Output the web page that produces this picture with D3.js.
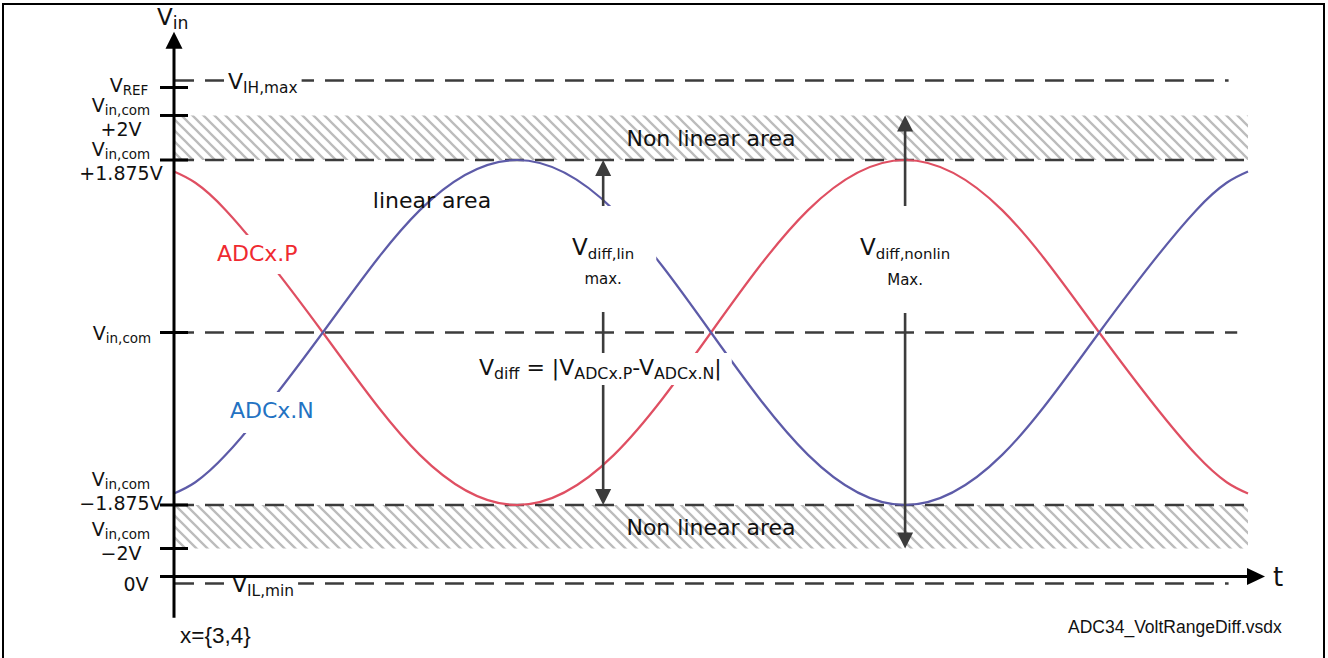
<!DOCTYPE html>
<html>
<head>
<meta charset="utf-8">
<script src="https://cdn.jsdelivr.net/npm/d3@7"></script>
<style>
  body { margin: 0; background: #fff; }
  svg { display: block; }
  text { font-family: "DejaVu Sans", Verdana, sans-serif; white-space: pre; }
</style>
</head>
<body>
<div id="chart"></div>
<script>
// phase of the sample points (degrees)
const phase = [-69, -45, 0, 45, 90, 135, 180, 225, 270, 315, 360, 405, 429];
// ADCx.P and ADCx.N relative to Vin,com (V)
const adcP = [1.75, 1.33, 0, -1.33, -1.875, -1.33, 0, 1.33, 1.875, 1.33, 0, -1.33, -1.75];
const adcN = [-1.75, -1.33, 0, 1.33, 1.875, 1.33, 0, -1.33, -1.875, -1.33, 0, 1.33, 1.75];

// schematic levels on the Vin axis (relative to Vin,com, as drawn)
const dashedLevels = [2.739, 1.875, 0, -1.875, -2.728];
const tickLevels = [2.663, 2.359, 1.875, 0, -1.875, -2.348];
const bands = [[1.875, 2.359], [-2.348, -1.875]];
const zeroVolt = -2.652;

// tick labels on the left
const axisLabelText = ["V_{REF}", "V_{in,com}\n+2V", "V_{in,com}\n+1.875V", "V_{in,com}",
                       "V_{in,com}\n\u22121.875V", "V_{in,com}\n\u22122V", "0V"];
const axisLabelLevel = [2.663, 2.359, 1.875, 0, -1.875, -2.348, -2.652];

// arrows: phase, from level, to level
const arrowPhase = [130, 270];
const arrowFrom = [1.875, 2.359];
const arrowTo = [-1.875, -2.348];

const svg = d3.select('#chart').append('svg')
    .attr('width', 1328)
    .attr('height', 658);

const x = d3.scaleLinear().domain([-69, 429]).range([174, 1248]);
const y = d3.scaleLinear().domain([-1.875, 1.875]).range([505, 160]);

const ink = '#3c3c3c';

// hatch pattern
svg.append('defs').append('pattern')
    .attr('id', 'hatch')
    .attr('patternUnits', 'userSpaceOnUse')
    .attr('width', 11).attr('height', 11)
  .append('path')
    .attr('d', 'M-1,10 l2,2 M0,0 l11,11 M10,-1 l2,2')
    .attr('stroke', '#bcbcbc')
    .attr('stroke-width', 2.3);

// frame
svg.append('path')
    .attr('d', 'M3,658 V4 H1324 V658')
    .attr('fill', 'none').attr('stroke', '#000').attr('stroke-width', 2);

const gHatch = svg.append('g');
const gDash = svg.append('g');
const gCurve = svg.append('g');
const gArrow = svg.append('g');
const gBox = svg.append('g');
const gText = svg.append('g');
const gAxis = svg.append('g');

// non linear bands
gHatch.selectAll('rect')
  .data(bands)
  .join('rect')
    .attr('x', x(-69))
    .attr('y', d => y(d[1]))
    .attr('width', x(429) - x(-69))
    .attr('height', d => y(d[0]) - y(d[1]))
    .attr('fill', 'url(#hatch)');

// dashed reference lines
gDash.selectAll('line')
  .data(dashedLevels)
  .join('line')
    .attr('x1', x(-69) + 1)
    .attr('x2', d => Math.abs(d) === 1.875 ? x(429) : (d === 0 ? x(424) : x(420)))
    .attr('y1', d => y(d)).attr('y2', d => y(d))
    .attr('stroke', ink)
    .attr('stroke-width', 2.6)
    .attr('stroke-dasharray', '19 11');

// sine curves
const line = d3.line()
    .x(d => x(d[0]))
    .y(d => y(d[1]))
    .curve(d3.curveNatural);

gCurve.append('path')
    .attr('d', line(phase.map((p, i) => [p, adcP[i]])))
    .attr('fill', 'none').attr('stroke', '#df4f62').attr('stroke-width', 2.2);
gCurve.append('path')
    .attr('d', line(phase.map((p, i) => [p, adcN[i]])))
    .attr('fill', 'none').attr('stroke', '#5d5ba8').attr('stroke-width', 2.2);

// double arrows
arrowPhase.forEach((p, i) => {
  const ax = x(p), yt = y(arrowFrom[i]), yb = y(arrowTo[i]);
  gArrow.append('line')
      .attr('x1', ax).attr('x2', ax)
      .attr('y1', yt + 8).attr('y2', yb - 8)
      .attr('stroke', ink).attr('stroke-width', 2.6);
  gArrow.append('path')
      .attr('d', `M${ax},${yt} L${ax - 8},${yt + 16} L${ax + 8},${yt + 16} Z M${ax},${yb} L${ax - 8},${yb - 16} L${ax + 8},${yb - 16} Z`)
      .attr('fill', ink);
});

// text with _{subscript} parts
function rich(g, str, px, py, size, opts = {}) {
  const subRatio = opts.subRatio || 0.7;
  const t = g.append('text')
      .attr('x', px).attr('y', py)
      .attr('font-size', size)
      .attr('text-anchor', opts.anchor || 'start')
      .attr('fill', opts.color || '#111');
  let shift = 0;
  str.split(/(_\{[^}]*\})/).filter(s => s).forEach(s => {
    const sub = s.startsWith('_{');
    const target = sub ? Math.round(size * 0.16) : 0;
    t.append('tspan')
        .attr('dy', target - shift)
        .attr('font-size', sub ? size * subRatio : size)
        .text(sub ? s.slice(2, -1) : s);
    shift = target;
  });
  return t;
}

function box(sel, pad) {
  const b = sel.node().getBBox();
  gBox.append('rect')
      .attr('x', b.x - pad[3]).attr('y', b.y - pad[0])
      .attr('width', b.width + pad[1] + pad[3])
      .attr('height', b.height + pad[0] + pad[2])
      .attr('fill', '#fff');
}

// left tick labels
const labelX = [129, 121, 121, 122, 121, 121, 136];
const labelDy = [4, 21, 20, 7, 5, 11, 15];
axisLabelText.forEach((s, i) => {
  const rows = s.split('\n');
  rows.forEach((r, j) => {
    rich(gText, r, labelX[i], y(axisLabelLevel[i]) + labelDy[i] - (rows.length - 1 - j) * 24, 19,
         { anchor: 'middle', subRatio: 0.71 });
  });
});

// Vin and t
rich(gText, 'V_{in}', 157, 25, 23, { subRatio: 0.75 });
gText.append('text').attr('x', 1273).attr('y', 586).attr('font-size', 26).attr('fill', '#111').text('t');

// VIH,max / VIL,min on dashed lines
box(rich(gText, 'V_{IH,max}', 228, y(2.739) + 8, 22, { subRatio: 0.7 }), [0, 4, 0, 4]);
box(rich(gText, 'V_{IL,min}', 232, y(-2.728) + 9, 22, { subRatio: 0.7 }), [0, 4, 0, 4]);

// band labels
bands.forEach(b => {
  gText.append('text')
      .attr('x', x(180)).attr('y', (y(b[0]) + y(b[1])) / 2 + 8)
      .attr('text-anchor', 'middle').attr('font-size', 22).attr('fill', '#111')
      .text('Non linear area');
});
gText.append('text')
    .attr('x', 432).attr('y', 208)
    .attr('text-anchor', 'middle').attr('font-size', 22).attr('fill', '#111')
    .text('linear area');

// series labels
box(gText.append('text').attr('x', 217).attr('y', 261).attr('font-size', 22)
    .attr('fill', '#ef2a30').text('ADCx.P'), [6, 6, 8, 6]);
box(gText.append('text').attr('x', 230).attr('y', 418).attr('font-size', 22)
    .attr('fill', '#2372c2').text('ADCx.N'), [6, 6, 10, 6]);

// arrow labels
const linG = gText.append('g');
rich(linG, 'V_{diff,lin}', x(130), 255, 23, { anchor: 'middle', subRatio: 0.65 });
linG.append('text').attr('x', x(130)).attr('y', 284).attr('text-anchor', 'middle')
    .attr('font-size', 15).attr('fill', '#111').text('max.');
box(linG, [28, 22, 24, 16]);

const nonG = gText.append('g');
rich(nonG, 'V_{diff,nonlin}', x(270), 255, 23, { anchor: 'middle', subRatio: 0.65 });
nonG.append('text').attr('x', x(270)).attr('y', 285).attr('text-anchor', 'middle')
    .attr('font-size', 15).attr('fill', '#111').text('Max.');
box(nonG, [28, 10, 24, 10]);

// formula
box(rich(gText, 'V_{diff} = |V_{ADCx.P}-V_{ADCx.N}|', 479, 375, 22, { subRatio: 0.72 }), [2, 10, 2, 10]);

// footnotes
gText.append('text').attr('x', 180).attr('y', 643).attr('font-size', 22.5)
    .style('font-family', '"Liberation Sans", Arial, sans-serif').attr('fill', '#111').text('x={3,4}');
gText.append('text').attr('x', 1068).attr('y', 633).attr('font-size', 17.5)
    .style('font-family', '"Liberation Sans", Arial, sans-serif').attr('fill', '#111').text('ADC34_VoltRangeDiff.vsdx');

// axes
const ax0 = x(-69);
gAxis.append('line')
    .attr('x1', ax0).attr('x2', ax0)
    .attr('y1', y(-3.1)).attr('y2', y(3.1))
    .attr('stroke', '#000').attr('stroke-width', 3);
gAxis.append('path')
    .attr('d', `M${ax0},${y(3.27)} L${ax0 - 8.5},${y(3.27) + 17} L${ax0 + 8.5},${y(3.27) + 17} Z`)
    .attr('fill', '#000');
gAxis.append('line')
    .attr('x1', ax0 - 14).attr('x2', x(429) + 4)
    .attr('y1', y(zeroVolt)).attr('y2', y(zeroVolt))
    .attr('stroke', '#000').attr('stroke-width', 3);
gAxis.append('path')
    .attr('d', `M${x(429) + 17},${y(zeroVolt)} L${x(429) - 1},${y(zeroVolt) - 8.5} L${x(429) - 1},${y(zeroVolt) + 8.5} Z`)
    .attr('fill', '#000');
gAxis.selectAll('.tick')
  .data(tickLevels)
  .join('line')
    .attr('class', 'tick')
    .attr('x1', ax0 - 14).attr('x2', ax0 + 14)
    .attr('y1', d => y(d)).attr('y2', d => y(d))
    .attr('stroke', '#000').attr('stroke-width', 3);
</script>
</body>
</html>
